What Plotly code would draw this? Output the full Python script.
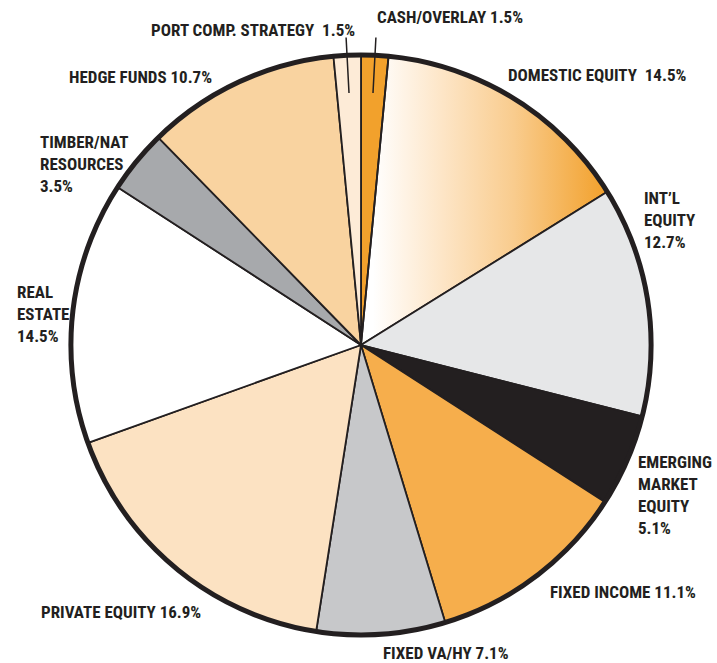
import math
import plotly.graph_objects as go

# ---- data (clockwise from 12 o'clock) ----
categories = ["CASH/OVERLAY", "DOMESTIC EQUITY", "INT’L EQUITY", "EMERGING MARKET EQUITY",
              "FIXED INCOME", "FIXED VA/HY", "PRIVATE EQUITY", "REAL ESTATE",
              "TIMBER/NAT RESOURCES", "HEDGE FUNDS", "PORT COMP. STRATEGY"]
values = [1.5, 14.5, 12.7, 5.1, 11.1, 7.1, 16.9, 14.5, 3.5, 10.7, 1.5]
label_texts = ["CASH/OVERLAY 1.5%", "DOMESTIC EQUITY  14.5%", "INT’L<br>EQUITY<br>12.7%",
               "EMERGING<br>MARKET<br>EQUITY<br>5.1%", "FIXED INCOME 11.1%", "FIXED VA/HY 7.1%",
               "PRIVATE EQUITY 16.9%", "REAL<br>ESTATE<br>14.5%", "TIMBER/NAT<br>RESOURCES<br>3.5%",
               "HEDGE FUNDS 10.7%", "PORT COMP. STRATEGY  1.5%"]

# ---- styles ----
W, H = 717, 663
INK = "#231f20"
colors = ["#f2a12c", "rgba(0,0,0,0)", "#e6e7e8", INK, "#f6ae4c", "#c7c8ca",
          "#fce2c2", "#ffffff", "#a7a9ac", "#f9d3a0", "#fdebd7"]
GRADIENT_IDX = 1

cx, cy, R = 361, 345, 290
dom_x = [(cx - R) / W, (cx + R) / W]
dom_y = [1 - (cy + R) / H, 1 - (cy - R) / H]

fig = go.Figure()

# gradient-filled slice (drawn beneath the pie, computed from the data)
total = sum(values)
a0 = sum(values[:GRADIENT_IDX]) / total * 2 * math.pi
a1 = sum(values[:GRADIENT_IDX + 1]) / total * 2 * math.pi
n = 80
xs = [0.0] + [math.sin(a0 + (a1 - a0) * i / n) for i in range(n + 1)] + [0.0]
ys = [0.0] + [math.cos(a0 + (a1 - a0) * i / n) for i in range(n + 1)] + [0.0]
fig.add_trace(go.Scatter(
    x=xs, y=ys, mode="lines", fill="toself", line=dict(width=0, color="rgba(0,0,0,0)"),
    fillgradient=dict(type="horizontal", start=0.04, stop=0.85,
                      colorscale=[[0, "#ffffff"], [0.3, "#fde5c6"], [0.6, "#f9cc8e"], [1, "#f2a02a"]]),
    hoverinfo="skip", showlegend=False))

fig.add_trace(go.Pie(
    labels=categories, values=values, sort=False, direction="clockwise", rotation=0,
    marker=dict(colors=colors, line=dict(color=INK, width=1.8)),
    textinfo="none", hoverinfo="label+value", showlegend=False,
    domain=dict(x=dom_x, y=dom_y)))

# thick outer rim
fig.add_trace(go.Pie(
    labels=["rim"], values=[1], sort=False,
    marker=dict(colors=["rgba(0,0,0,0)"], line=dict(color=INK, width=5)),
    textinfo="none", hoverinfo="skip", showlegend=False,
    domain=dict(x=dom_x, y=dom_y)))

FONT = dict(family="Liberation Sans Narrow, Arial Narrow, Roboto Condensed, DejaVu Sans Condensed, sans-serif",
            size=17, color=INK, weight=700)

# label placements (pixel positions): (x, y, xanchor)
placements = [
    (375, 17, "left"),
    (506, 75, "left"),
    (642, 220, "left"),
    (636, 495, "left"),
    (548, 592, "left"),
    (381, 653, "left"),
    (39, 612, "left"),
    (15, 314, "left"),
    (38, 164, "left"),
    (67, 77, "left"),
    (357, 30, "right"),
]
for txt, (px, py, xa) in zip(label_texts, placements):
    fig.add_annotation(text=txt, x=px / W, y=1 - py / H, xref="paper", yref="paper",
                       xanchor=xa, yanchor="middle", align="left", showarrow=False,
                       font=FONT)

# leader lines for the two thin slices, tips at the slice mid-angles
for idx, (ax, ay) in [(0, (3, -57)), (10, (-3, -57))]:
    mid = (sum(values[:idx]) + values[idx] / 2) / total * 2 * math.pi
    fig.add_annotation(x=0.87 * math.sin(mid), y=0.87 * math.cos(mid), xref="x", yref="y",
                       text="", showarrow=True, arrowhead=0, arrowwidth=1.5, arrowcolor=INK,
                       ax=ax, ay=ay, standoff=0, startstandoff=0)

fig.update_layout(
    width=W, height=H, margin=dict(l=0, r=0, t=0, b=0),
    paper_bgcolor="white", plot_bgcolor="rgba(0,0,0,0)",
    xaxis=dict(domain=dom_x, range=[-1, 1], visible=False, fixedrange=True),
    yaxis=dict(domain=dom_y, range=[-1, 1], visible=False, fixedrange=True),
)

fig.write_html("out.html")
